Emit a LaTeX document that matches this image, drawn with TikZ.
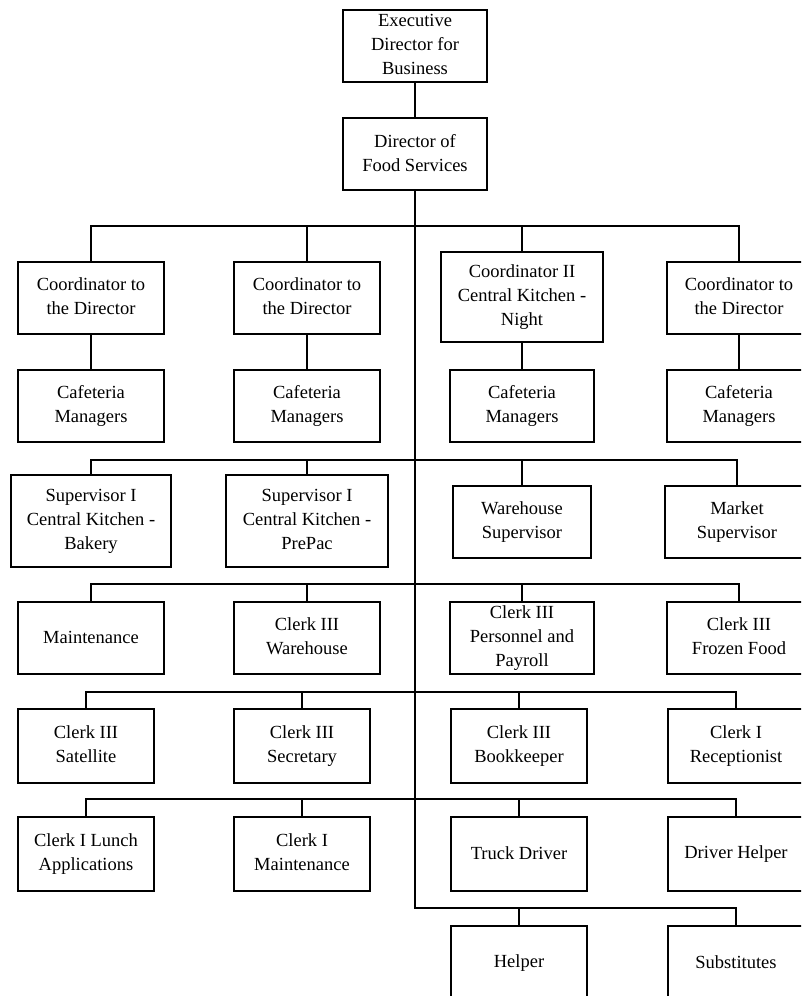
\documentclass[tikz,border=0pt]{standalone}
\usepackage{fontspec}
\setmainfont{Liberation Serif}
\begin{document}
\begin{tikzpicture}[x=1pt,y=-1pt,line width=2pt,
  box/.style={draw,fill=white,align=center,inner sep=0pt,
    minimum width=146pt,minimum height=72pt,
    execute at begin node={\rule{0pt}{13pt}},
    execute at end node={\rule[-3pt]{0pt}{3pt}},
    font=\fontsize{18.5}{24}\selectfont},
  tall/.style={box,minimum height=92pt},
  narrow/.style={box,minimum width=136pt,minimum height=74pt},
  link/.style={draw,line cap=rect}]
\clip (0,0) rectangle (801,996);
\fill[white] (0,0) rectangle (801,996);

% top of the chart
\node[box,minimum width=144pt] (exec) at (415,46) {Executive\\Director for\\Business};
\node[box,minimum width=144pt] (dir) at (415,154) {Director of\\Food Services};

% coordinators
\node[box] (c1) at (91,298) {Coordinator to\\the Director};
\node[box] (c2) at (307,298) {Coordinator to\\the Director};
\node[box,minimum width=162pt,minimum height=90pt] (c3) at (522,297) {Coordinator II\\Central Kitchen -\\Night};
\node[box,minimum width=144pt] (c4) at (739,298) {Coordinator to\\the Director};

% cafeteria managers
\node[box] (m1) at (91,406) {Cafeteria\\Managers};
\node[box] (m2) at (307,406) {Cafeteria\\Managers};
\node[box,minimum width=144pt] (m3) at (522,406) {Cafeteria\\Managers};
\node[box,minimum width=144pt] (m4) at (739,406) {Cafeteria\\Managers};

% supervisors
\node[tall,minimum width=160pt] (s1) at (91,521) {Supervisor I\\Central Kitchen -\\Bakery};
\node[tall,minimum width=162pt] (s2) at (307,521) {Supervisor I\\Central Kitchen -\\PrePac};
\node[box,minimum width=138pt] (s3) at (522,522) {Warehouse\\Supervisor};
\node[box,minimum width=144pt] (s4) at (737,522) {Market\\Supervisor};

% clerks, first row
\node[box] (r1) at (91,638) {Maintenance};
\node[box] (r2) at (307,638) {Clerk III\\Warehouse};
\node[box,minimum width=144pt] (r3) at (522,638) {Clerk III\\Personnel and\\Payroll};
\node[box,minimum width=144pt] (r4) at (739,638) {Clerk III\\Frozen Food};

% clerks, second row
\node[narrow] (k1) at (86,746) {Clerk III\\Satellite};
\node[narrow] (k2) at (302,746) {Clerk III\\Secretary};
\node[narrow] (k3) at (519,746) {Clerk III\\Bookkeeper};
\node[narrow] (k4) at (736,746) {Clerk I\\Receptionist};

% clerks and drivers
\node[narrow] (d1) at (86,854) {Clerk I Lunch\\Applications};
\node[narrow] (d2) at (302,854) {Clerk I\\Maintenance};
\node[narrow] (d3) at (519,854) {Truck Driver};
\node[narrow] (d4) at (736,854) {Driver Helper};

% helpers
\node[narrow] (h1) at (519,963) {Helper};
\node[narrow] (h2) at (736,963) {Substitutes};

% bus lines
\coordinate (b1) at (0,226);
\coordinate (b2) at (0,460);
\coordinate (b3) at (0,584);
\coordinate (b4) at (0,692);
\coordinate (b5) at (0,799);
\coordinate (b6) at (0,908);
\coordinate (spineend) at (dir.south |- b6);

\draw[link] (exec.south) -- (dir.north);
\draw[link] (dir.south) -- (spineend);

\draw[link] (c1.north) -- (c1.north |- b1) -- (c4.north |- b1) -- (c4.north);
\draw[link] (c2.north) -- (c2.north |- b1);
\draw[link] (c3.north) -- (c3.north |- b1);
\foreach \i in {1,...,4} \draw[link] (c\i.south) -- (m\i.north);

\draw[link] (s1.north) -- (s1.north |- b2) -- (s4.north |- b2) -- (s4.north);
\draw[link] (s2.north) -- (s2.north |- b2);
\draw[link] (s3.north) -- (s3.north |- b2);

\draw[link] (r1.north) -- (r1.north |- b3) -- (r4.north |- b3) -- (r4.north);
\draw[link] (r2.north) -- (r2.north |- b3);
\draw[link] (r3.north) -- (r3.north |- b3);

\draw[link] (k1.north) -- (k1.north |- b4) -- (k4.north |- b4) -- (k4.north);
\draw[link] (k2.north) -- (k2.north |- b4);
\draw[link] (k3.north) -- (k3.north |- b4);

\draw[link] (d1.north) -- (d1.north |- b5) -- (d4.north |- b5) -- (d4.north);
\draw[link] (d2.north) -- (d2.north |- b5);
\draw[link] (d3.north) -- (d3.north |- b5);

\draw[link] (spineend) -- (h2.north |- b6) -- (h2.north);
\draw[link] (h1.north) -- (h1.north |- b6);
\end{tikzpicture}
\end{document}
